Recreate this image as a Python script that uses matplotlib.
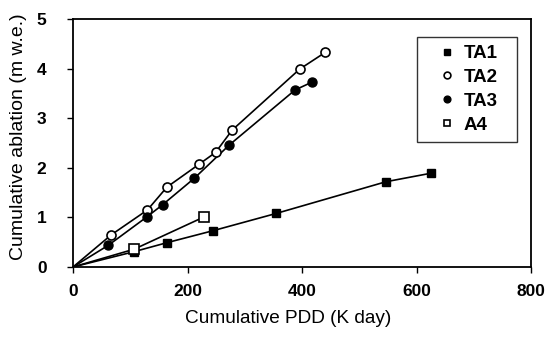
import matplotlib
matplotlib.use("Agg")
import matplotlib.pyplot as plt

plt.rcParams['font.family'] = ['Liberation Sans', 'DejaVu Sans']

ta1_x = [0, 107, 164, 244, 355, 547, 625]
ta1_y = [0, 0.31, 0.49, 0.73, 1.08, 1.72, 1.89]
ta2_x = [0, 67, 130, 164, 220, 249, 278, 396, 441]
ta2_y = [0, 0.65, 1.15, 1.61, 2.07, 2.31, 2.76, 3.99, 4.33]
ta3_x = [0, 62, 129, 157, 212, 273, 388, 418]
ta3_y = [0, 0.44, 1.01, 1.26, 1.79, 2.46, 3.57, 3.73]
a4_x = [0, 107, 229]
a4_y = [0, 0.36, 1.01]

xticks = [0, 200, 400, 600, 800]
yticks = [0, 1, 2, 3, 4, 5]

fig = plt.figure(figsize=(5.47, 3.4), dpi=100)
ax = fig.add_axes([73/547, 1-267/340, (531-73)/547, (267-19)/340])

lw = 1.2
ms = 6
for xs, ys in [(ta1_x, ta1_y), (ta2_x, ta2_y), (ta3_x, ta3_y), (a4_x, a4_y)]:
    ax.plot(xs, ys, color='black', lw=lw, zorder=2)

ax.plot(ta1_x[1:], ta1_y[1:], 's', color='black', ms=ms, ls='none', label='TA1', zorder=3)
ax.plot(ta2_x[1:], ta2_y[1:], 'o', mfc='white', mec='black', mew=1.2, ms=ms+0.5, ls='none', label='TA2', zorder=3)
ax.plot(ta3_x[1:], ta3_y[1:], 'o', color='black', ms=ms+0.5, ls='none', label='TA3', zorder=3)
ax.plot(a4_x[1:], a4_y[1:], 's', mfc='white', mec='black', mew=1.2, ms=ms+0.5, ls='none', label='A4', zorder=3)

ax.set_xlim(0, 800)
ax.set_ylim(0, 5)
ax.set_xticks(xticks)
ax.set_yticks(yticks)
ax.set_xticklabels([str(t) for t in xticks], fontsize=12.5, fontweight='bold')
ax.set_yticklabels([str(t) for t in yticks], fontsize=12.5, fontweight='bold')
ax.tick_params(direction='out', length=4, width=1)
ax.tick_params(axis='x', pad=8)
ax.tick_params(axis='y', pad=15)
for s in ax.spines.values():
    s.set_linewidth(1.3)

ax.set_xlabel('Cumulative PDD (K day)', fontsize=13.7)
ax.set_ylabel('Cumulative ablation (m w.e.)', fontsize=14)
ax.xaxis.set_label_coords((288-73)/458, (267-310)/248)
ax.yaxis.set_label_coords((27-73)/458, (267-137)/248)

leg = ax.legend(loc='upper left', bbox_to_anchor=(0.751, 0.0, 0.218, 0.927), mode='expand',
                frameon=True, fancybox=False, edgecolor='black',
                prop={'size': 13.5, 'weight': 'bold'}, handlelength=2.4,
                handletextpad=-0.35, labelspacing=0.36, borderpad=0.42, markerscale=0.75,
                borderaxespad=0)
leg.get_frame().set_linewidth(1.0)

fig.savefig('out.png', dpi=100)
